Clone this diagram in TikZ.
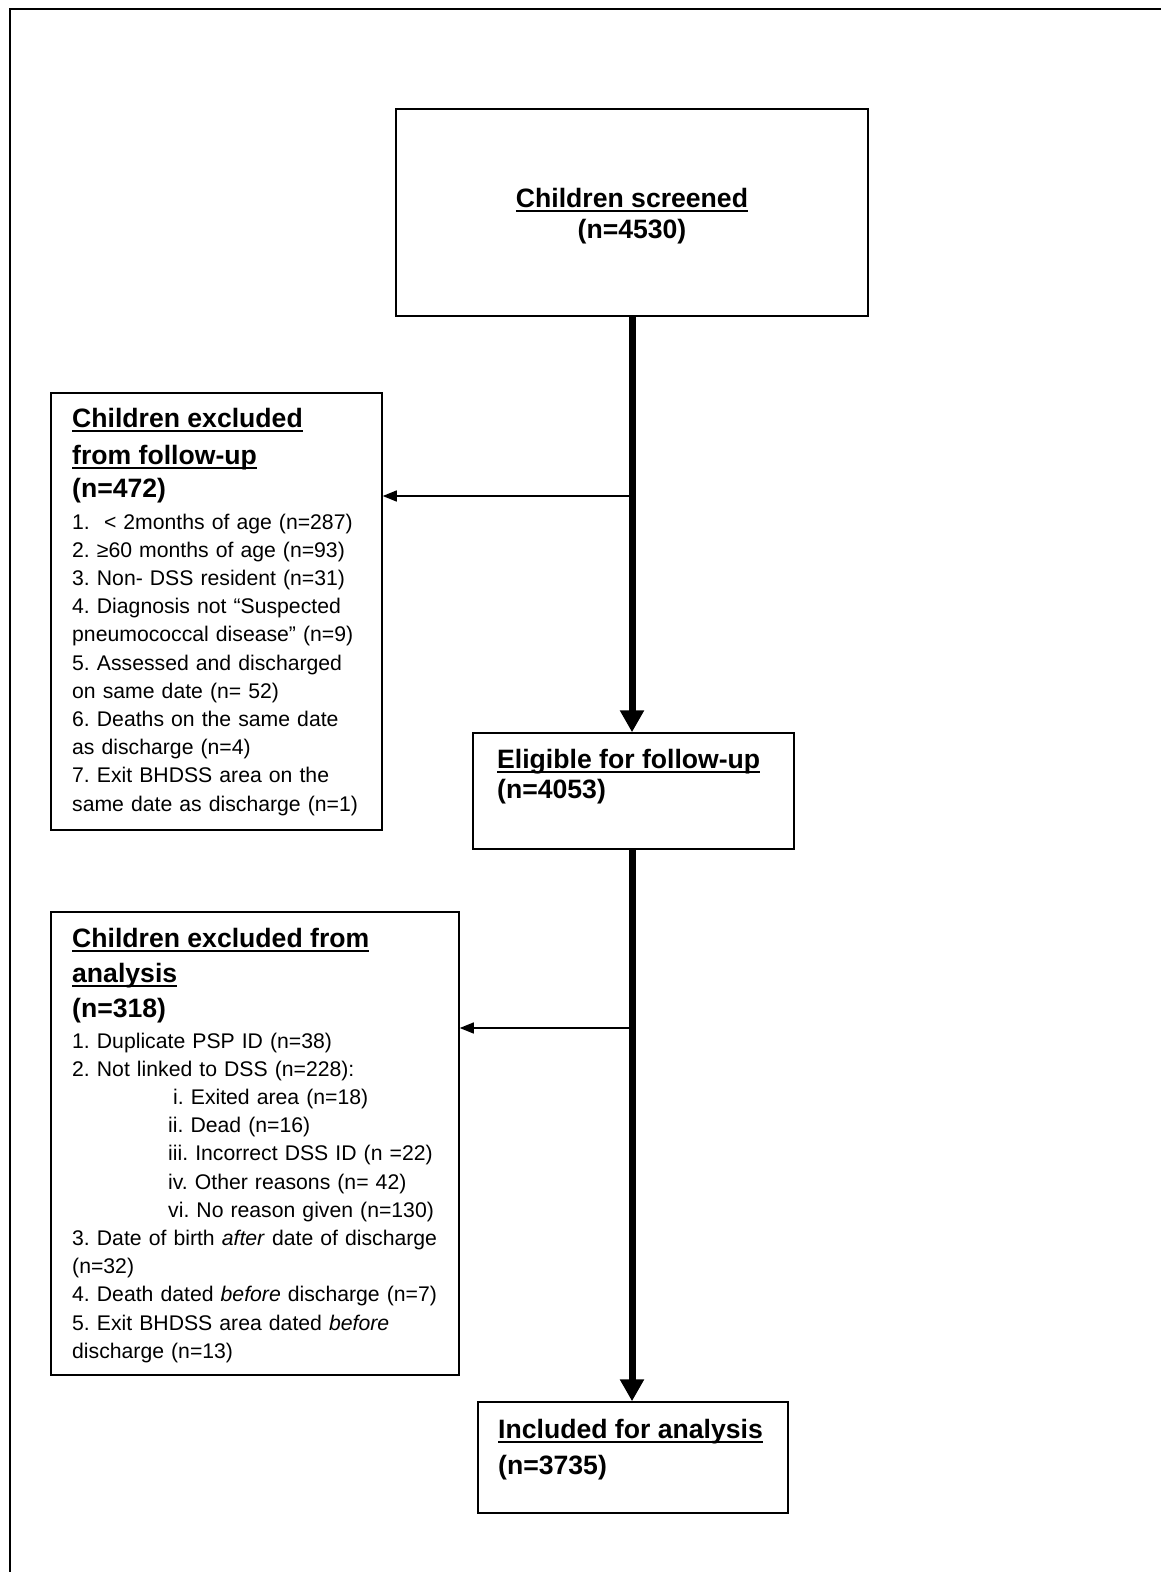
\documentclass[tikz,border=0pt]{standalone}
\usepackage{fontspec}
\setmainfont{Liberation Sans}
\usetikzlibrary{arrows.meta}
\frenchspacing
\newcommand\myul[1]{\setbox0\hbox{#1}\rlap{\rule[-0.19em]{\wd0}{0.075em}}\box0}
\tikzset{
  box/.style={draw, line width=1.5pt, inner sep=0pt},
  head/.style={inner sep=0pt, font=\fontsize{26.6}{33}\selectfont\bfseries},
  body/.style={inner sep=0pt, align=left, font=\fontsize{21.2}{28.2}\selectfont\frenchspacing},
  trunk/.style={line width=7pt, -{Triangle[length=22pt,width=23pt]}},
  side/.style={line width=1.3pt, -{Triangle[length=14pt,width=11pt]}},
}
\begin{document}
\begin{tikzpicture}[x=1pt,y=-1pt]
\useasboundingbox (0,0) rectangle (1161,1572);
% outer frame (only top and left edges fall inside the page)
\draw[line width=2pt] (10,1572) -- (10,9) -- (1161,9);

% boxes
\node[box, minimum width=472pt, minimum height=207pt] (b1) at (632,212.5) {};
\node[box, minimum width=331pt, minimum height=437pt] (b2) at (216.5,611.5) {};
\node[box, minimum width=321pt, minimum height=116pt] (b3) at (633.5,791) {};
\node[box, minimum width=408pt, minimum height=463pt] (b4) at (255,1143.5) {};
\node[box, minimum width=310pt, minimum height=111pt] (b5) at (633,1457.5) {};

% texts: top box
\node[head, anchor=base] (t1a) at (632,207) {\myul{Children screened}};
\node[head, anchor=base] (t1b) at (632,238) {(n=4530)};

% excluded from follow-up
\node[head, anchor=base west] (t2a) at (72,427) {\myul{Children excluded}};
\node[head, anchor=base west] (t2b) at (72,464) {\myul{from follow-up}};
\node[head, anchor=base west] (t2c) at (72,497) {(n=472)};
\node[body, anchor=base west, text width=305pt] (t2d) at (72,529) {%
1.\ \ < 2months of age (n=287)\\
2. ≥60 months of age (n=93)\\
3. Non- DSS resident (n=31)\\
4. Diagnosis not “Suspected\\
pneumococcal disease” (n=9)\\
5. Assessed and discharged\\
on same date (n= 52)\\
6. Deaths on the same date\\
as discharge (n=4)\\
7. Exit BHDSS area on the\\
same date as discharge (n=1)};

% eligible
\node[head, anchor=base west] (t3a) at (497,768) {\myul{Eligible for follow-up}};
\node[head, anchor=base west] (t3b) at (497,798) {(n=4053)};

% excluded from analysis
\node[head, anchor=base west] (t4a) at (72,947) {\myul{Children excluded from}};
\node[head, anchor=base west] (t4b) at (72,982) {\myul{analysis}};
\node[head, anchor=base west] (t4c) at (72,1017) {(n=318)};
\node[body, anchor=base west, text width=380pt] (t4d) at (72,1048) {%
1. Duplicate PSP ID (n=38)\\
2. Not linked to DSS (n=228):\\
\hspace*{101pt}i. Exited area (n=18)\\
\hspace*{96pt}ii. Dead (n=16)\\
\hspace*{96pt}iii. Incorrect DSS ID (n =22)\\
\hspace*{96pt}iv. Other reasons (n= 42)\\
\hspace*{96pt}vi. No reason given (n=130)\\
3. Date of birth \textit{after} date of discharge\\
(n=32)\\
4. Death dated \textit{before} discharge (n=7)\\
5. Exit BHDSS area dated \textit{before}\\
discharge (n=13)};

% included
\node[head, anchor=base west] (t5a) at (498,1438) {\myul{Included for analysis}};
\node[head, anchor=base west] (t5b) at (498,1474) {(n=3735)};

% connectors
\coordinate (j1) at (632,496);
\coordinate (j2) at (632,1028);
\draw[trunk] (b1.south) -- (b1.south |- b3.north);
\draw[trunk] (b1.south |- b3.south) -- (b1.south |- b5.north);
\draw[side] (j1) -- (j1 -| b2.east);
\draw[side] (j2) -- (j2 -| b4.east);
\end{tikzpicture}
\end{document}
